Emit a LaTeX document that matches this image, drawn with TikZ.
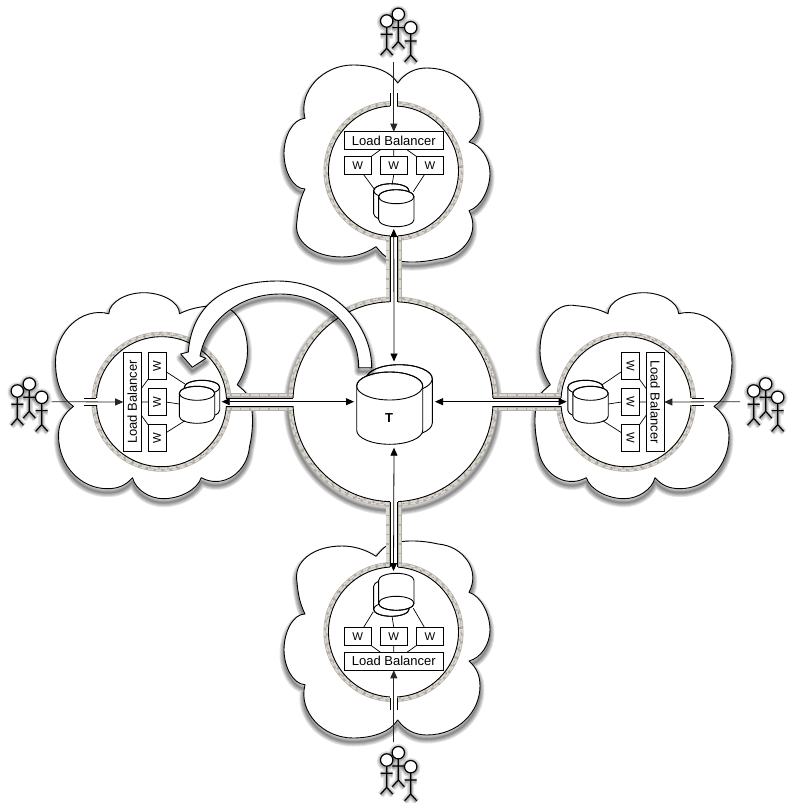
\documentclass[tikz,border=0pt]{standalone}
\usepackage{fontspec}
\setmainfont{Liberation Sans}
\usetikzlibrary{arrows.meta,calc}
\definecolor{stoneA}{HTML}{B3AFA6}
\definecolor{stoneB}{HTML}{DDDAD3}
\definecolor{stoneC}{HTML}{77736B}
\tikzset{
  x=1pt,y=-1pt,
  outline/.style={draw=black,line width=0.9pt,line join=round},
  lbbox/.style={draw=black,fill=white,line width=0.8pt,inner sep=0,outer sep=0,minimum width=99.5pt,minimum height=18pt,font=\fontsize{13}{15}\selectfont},
  wbox/.style={draw=black,fill=white,line width=0.8pt,inner sep=0,outer sep=0,minimum width=27.3pt,minimum height=18pt,font=\fontsize{11.3}{13}\selectfont},
  link/.style={draw=black,line width=0.7pt},
  flow/.style={draw=black!85,line width=0.8pt,-{Triangle[length=8pt,width=7pt]}},
  both/.style={draw=black,line width=0.8pt,{Triangle[length=8pt,width=7pt]}-{Triangle[length=8pt,width=7pt]}},
}
\newcommand\cloudpath{(4.7,-88) .. controls (12,-98) and (22,-103) .. (33.7,-103)
  .. controls (65,-103) and (87,-80) .. (87,-54) .. controls (87,-44) and (84,-36) .. (76,-29)
  .. controls (88,-26) and (97,-12) .. (97,2) .. controls (97,18) and (88,36) .. (76,39.7)
  .. controls (88,62) and (70,86) .. (45,88) .. controls (28,92) and (4,93) .. (-8,85)
  .. controls (-11,83) and (-14,79) .. (-17,75.7)
  .. controls (-28,83) and (-40,86) .. (-51,86) .. controls (-80,86) and (-100,70) .. (-96,50)
  .. controls (-95,38) and (-93,28) .. (-88,18)
  .. controls (-100,18) and (-109,0) .. (-109,-17.7) .. controls (-109,-35) and (-100,-52) .. (-88,-52.7)
  .. controls (-95,-80) and (-70,-106) .. (-40,-106) .. controls (-20,-106) and (-3,-100) .. (4.7,-88) -- cycle}
\newcommand\bigarrowpath{(371.7,367.7) .. controls (371.7,322) and (330,281) .. (278,281)
  .. controls (225,281) and (192,305) .. (188.3,352) -- (180.7,354) -- (192.3,367.3) -- (206,358.3) -- (200,356)
  .. controls (207,320) and (240,294) .. (280,294) .. controls (322,294) and (358.7,325) .. (358.7,367.7) -- cycle}
\newcommand\softshadow[1]{%
  \foreach \w in {9,7,5,3,1.5}{\draw[black,opacity=.11,line width=\w pt,line join=round] #1;}}
\newcommand\cloud[3]{% cx cy matrix
  \begin{scope}[yshift=-4pt]
    \begin{scope}[shift={(#1,#2)},cm={#3,(0,0)}]\softshadow{\cloudpath}\end{scope}
  \end{scope}
  \begin{scope}[shift={(#1,#2)},cm={#3,(0,0)}]
    \draw[outline,fill=white] \cloudpath;
  \end{scope}}
\newcommand\brickring[3]{% cx cy r
  \draw[stoneA,line width=5pt] (#1,#2) circle[radius=#3+2.5];
  \draw[stoneB,line width=2pt,dash pattern=on 7pt off 2pt] (#1,#2) circle[radius=#3+1.4];
  \draw[stoneB,line width=1.6pt,dash pattern=on 5pt off 3pt,dash phase=4pt] (#1,#2) circle[radius=#3+3.6];
  \draw[stoneC,line width=.5pt,dash pattern=on 1pt off 14pt] (#1,#2) circle[radius=#3+2.5];}
\newcommand\gate[3]{% cx cy matrix
  \begin{scope}[shift={(#1,#2)},cm={#3,(0,0)}]
    \fill[white] (-3.5,-78) rectangle (3.5,-63);
    \draw[line width=.8pt] (-3.5,-78) -- (-3.5,-65.5) (3.5,-78) -- (3.5,-65.5);
  \end{scope}}
\newcommand\module[4]{% name cx cy matrix
  \begin{scope}[shift={(#2,#3)},cm={#4,(0,0)}]
    \node[lbbox,rotate=\modrot] (lb-#1) at (0.3,-29.3) {Load Balancer};
    \node[wbox,rotate=\modrot] (wa-#1) at (-35.8,-4.5) {W};
    \node[wbox,rotate=\modrot] (wb-#1) at (0.3,-4.5) {W};
    \node[wbox,rotate=\modrot] (wc-#1) at (36.4,-4.5) {W};
    \coordinate (la-#1) at (-13,-20.3);
    \coordinate (lb2-#1) at (0.3,-20.3);
    \coordinate (lc-#1) at (13.4,-20.3);
    \coordinate (ta-#1) at (-22.3,-13.5);
    \coordinate (tb-#1) at (0.3,-13.5);
    \coordinate (tc-#1) at (23,-13.5);
    \coordinate (ba-#1) at (-30,4.5);
    \coordinate (bb-#1) at (0.3,4.5);
    \coordinate (bc-#1) at (31,4.5);
    \coordinate (in-#1) at (0.3,-38.3);
    \draw[link] (la-#1) -- (ta-#1) (lb2-#1) -- (tb-#1) (lc-#1) -- (tc-#1);
  \end{scope}}
\newcommand\cyl[8]{% cx cy rx ry h dx dy yscale
  \begin{scope}[shift={(#1,#2)},yscale=#8]
    \foreach \ox/\oy in {#6/#7,0/0}{
      \begin{scope}[shift={(\ox,\oy)}]
        \draw[outline,fill=white] (-#3,0) -- (-#3,#5)
          .. controls (-#3,#5+.55*#4) and (-.55*#3,#5+#4) .. (0,#5+#4)
          .. controls (.55*#3,#5+#4) and (#3,#5+.55*#4) .. (#3,#5)
          -- (#3,0)
          .. controls (#3,-.55*#4) and (.55*#3,-#4) .. (0,-#4)
          .. controls (-.55*#3,-#4) and (-#3,-.55*#4) .. (-#3,0) -- cycle;
        \draw[outline] (0,0) ellipse[x radius=#3,y radius=#4];
      \end{scope}}
  \end{scope}}
\newcommand\person[2]{%
  \begin{scope}[shift={(#1,#2)}]
    \draw[line width=1.2pt,fill=white] (0,0) circle[radius=6.2];
    \draw[line width=1.2pt] (0,6.2) -- (0,27.3) (-6,13.3) -- (6,13.3) (-6,34) -- (0,27.3) -- (6,34);
  \end{scope}}
\newcommand\personshadow[2]{%
  \begin{scope}[shift={(#1,#2)}]
    \foreach \w in {7,4.5,2.5}{\draw[black,opacity=.12,line width=\w pt] (0,1) circle[radius=6.2] (0,7.2) -- (0,28.3) (-6,14.3) -- (6,14.3) (-6,35) -- (0,28.3) -- (6,35);}
  \end{scope}}
\newcommand\crowd[6]{%
  \personshadow{#3}{#4}\personshadow{#1}{#2}\personshadow{#5}{#6}
  \person{#3}{#4}\person{#1}{#2}\person{#5}{#6}}
\newcommand\modrot{0}
\begin{document}
\begin{tikzpicture}
\useasboundingbox (0,0) rectangle (795,803);
\fill[white] (0,0) rectangle (795,803);
% clouds
\cloud{393}{171}{1,0,0,1}
\cloud{393}{632}{1,0,0,-1}
\cloud{161.5}{401.7}{0,-1,-1,0}
\cloud{626}{401.7}{0,-1,1,0}
% central shadow
\begin{scope}[yshift=-4pt]
  \softshadow{(393,401.7) circle[radius=105]}
\end{scope}
% rings
\brickring{393}{401.7}{100}
\brickring{393.5}{171}{65}
\brickring{393.5}{632}{65}
\brickring{161.5}{401.7}{65}
\brickring{626}{401.7}{65}
% pipes
\fill[stoneA] (385.7,232) rectangle (401.7,306);
\fill[stoneA] (385.7,497) rectangle (401.7,571);
\fill[stoneA] (222,393.3) rectangle (297,410.7);
\fill[stoneA] (489,393.3) rectangle (566,410.7);
\foreach \xa in {387.4,399.9}{
  \draw[stoneB,line width=2.4pt,dash pattern=on 8pt off 1.5pt] (\xa,232) -- (\xa,306);
  \draw[stoneB,line width=2.4pt,dash pattern=on 8pt off 1.5pt] (\xa,497) -- (\xa,571);}
\foreach \ya in {395.2,408.8}{
  \draw[stoneB,line width=2.4pt,dash pattern=on 8pt off 1.5pt] (222,\ya) -- (297,\ya);
  \draw[stoneB,line width=2.4pt,dash pattern=on 8pt off 1.5pt] (489,\ya) -- (566,\ya);}
% inner discs
\draw[outline,fill=white] (393,401.7) circle[radius=100];
\draw[outline,fill=white] (393.5,171) circle[radius=65];
\draw[outline,fill=white] (393.5,632) circle[radius=65];
\draw[outline,fill=white] (161.5,401.7) circle[radius=65];
\draw[outline,fill=white] (626,401.7) circle[radius=65];
% channels
\fill[white] (390,234) rectangle (397.7,303);
\fill[white] (390,499) rectangle (397.7,569);
\fill[white] (224,398.3) rectangle (294,406);
\fill[white] (492,398.3) rectangle (564,406);
\draw[line width=.8pt] (390,236) -- (390,301.7) (397.7,236) -- (397.7,301.7)
  (390,501.7) -- (390,567) (397.7,501.7) -- (397.7,567)
  (226,398.3) -- (293,398.3) (226,406) -- (293,406)
  (493,398.3) -- (561,398.3) (493,406) -- (561,406);
% gates on the user side
\gate{393.5}{171}{1,0,0,1}
\gate{393.5}{632}{1,0,0,-1}
\gate{161.5}{401.7}{0,-1,-1,0}
\gate{626}{401.7}{0,-1,1,0}
% modules
\module{top}{393.5}{170}{1,0,0,1}
\module{bot}{393.5}{632}{1,0,0,-1}
\renewcommand\modrot{90}
\module{lef}{161.5}{401.7}{0,-1,-1,0}
\renewcommand\modrot{-90}
\module{rig}{626}{401.7}{0,-1,1,0}
% cylinders
\cyl{396.3}{196.7}{17.7}{7}{23}{-5}{-6}{1}
\cyl{396.3}{603.3}{17.7}{7}{23}{-5}{-6}{-1}
\cyl{197}{393.3}{17.7}{7}{23}{5}{-6}{1}
\cyl{590.5}{393.3}{17.7}{7}{23}{-5}{-6}{1}
\cyl{389.7}{386}{33}{14}{44.3}{9.6}{-7.3}{1}
\node[inner sep=0,font=\fontsize{13}{15}\selectfont\bfseries] (t) at (389,417.7) {T};
% database attachment points
\coordinate (da-top) at (375,190); \coordinate (db-top) at (392,185); \coordinate (dc-top) at (413.3,191.7);
\coordinate (da-bot) at (373.3,611.7); \coordinate (db-bot) at (392,616); \coordinate (dc-bot) at (413.3,608.3);
\coordinate (da-lef) at (185,384); \coordinate (db-lef) at (179.3,404); \coordinate (dc-lef) at (185,420.7);
\coordinate (da-rig) at (601.7,385); \coordinate (db-rig) at (608.3,404); \coordinate (dc-rig) at (602.7,420.7);
\foreach \n in {top,bot,lef,rig}{
  \draw[link] (ba-\n) -- (da-\n) (bb-\n) -- (db-\n) (bc-\n) -- (dc-\n);}
% ports of the central store and of the local stores
\coordinate (pt-n) at (394,361.5); \coordinate (pt-s) at (394,447.7);
\coordinate (pt-w) at (354,401.7); \coordinate (pt-e) at (435,401.7);
\coordinate (p-top) at (393.8,229); \coordinate (p-bot) at (393.5,571);
\coordinate (p-lef) at (221.7,401.7); \coordinate (p-rig) at (566.7,401.7);
\draw[both] (p-top) -- (pt-n);
\draw[both] (pt-s) -- (p-bot);
\draw[both] (p-lef) -- (pt-w);
\draw[both] (pt-e) -- (p-rig);
% user crowds
\crowd{386.7}{21}{398.3}{14.3}{410.7}{27.7}
\crowd{386.7}{760}{398.3}{752.7}{410.7}{766.7}
\crowd{17.3}{391}{29.3}{384}{41.7}{397.3}
\crowd{753.7}{391}{765.7}{384}{777.7}{397.3}
\coordinate (u-top) at (393.8,62); \coordinate (u-bot) at (393.8,742);
\coordinate (u-lef) at (51.7,401.7); \coordinate (u-rig) at (740,401.7);
\draw[flow] (u-top) -- (in-top);
\draw[flow] (u-bot) -- (in-bot);
\draw[flow] (u-lef) -- (in-lef);
\draw[flow] (u-rig) -- (in-rig);
% big hollow arrow
\begin{scope}[yshift=-4pt]\softshadow{\bigarrowpath}\end{scope}
\draw[outline,fill=white] \bigarrowpath;
\end{tikzpicture}
\end{document}
